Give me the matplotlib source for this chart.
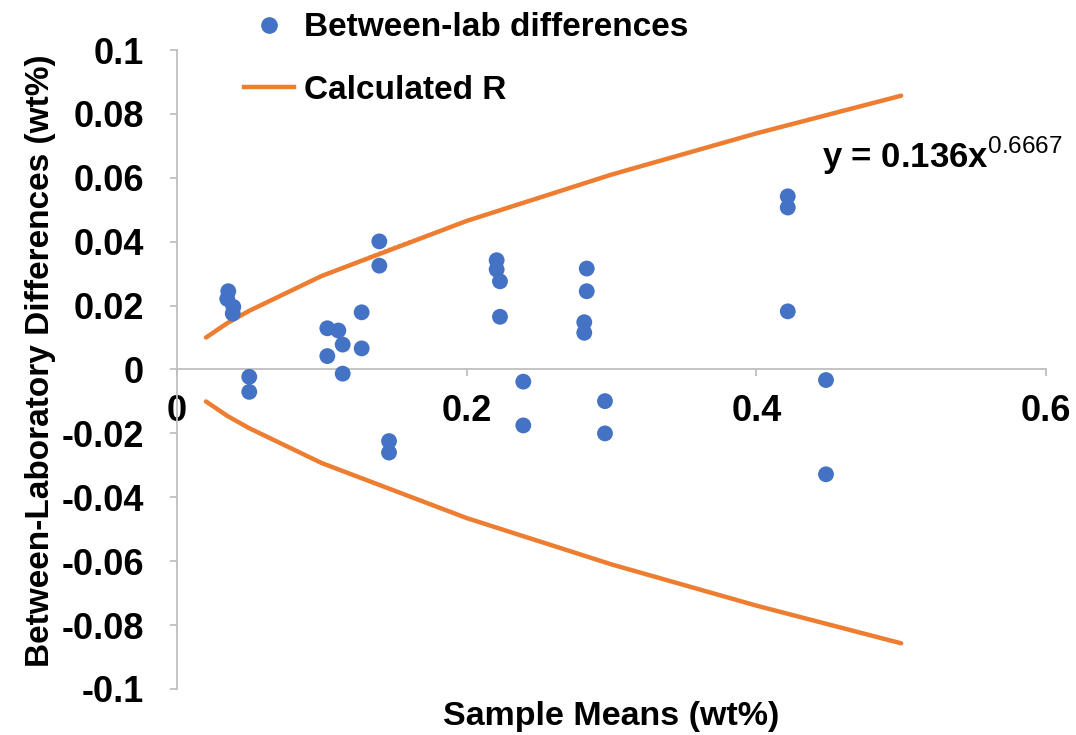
"""Between-laboratory differences vs sample means, with calculated R limits."""

import matplotlib
matplotlib.use("Agg")
import matplotlib.pyplot as plt
from matplotlib.lines import Line2D

# --- data ------------------------------------------------------------------
sample_means = [0.0354, 0.0347, 0.0389, 0.0385, 0.0499, 0.0499,
                0.1038, 0.1114, 0.1144, 0.1038, 0.1144, 0.1275, 0.1275,
                0.1397, 0.1397, 0.1464, 0.1464,
                0.2207, 0.2207, 0.2230, 0.2230, 0.2391, 0.2391,
                0.2829, 0.2829, 0.2812, 0.2812, 0.2955, 0.2955,
                0.4217, 0.4217, 0.4217, 0.4481, 0.4481]
lab_diffs = [0.0245, 0.0221, 0.0196, 0.0175, -0.0023, -0.0070,
             0.0129, 0.0122, 0.0078, 0.0042, -0.0013, 0.0179, 0.0066,
             0.0401, 0.0325, -0.0224, -0.0260,
             0.0342, 0.0313, 0.0276, 0.0165, -0.0038, -0.0175,
             0.0316, 0.0245, 0.0148, 0.0115, -0.0099, -0.0200,
             0.0542, 0.0507, 0.0182, -0.0033, -0.0328]

# calculated R limit (polyline vertices)
r_x = [0.02, 0.035, 0.05, 0.1, 0.2, 0.3, 0.4, 0.5]
r_upper = [0.0100, 0.0146, 0.0184, 0.0293, 0.0465, 0.0610, 0.0739, 0.0857]
r_lower = [-v for v in r_upper]

# power trendline (dotted, mostly hidden under the R line)
trend_x = [0.035, 0.05, 0.1, 0.125, 0.15, 0.175, 0.2, 0.25, 0.3, 0.4, 0.5]
trend_y = [0.0146, 0.0184, 0.0293, 0.0340, 0.0384, 0.0425, 0.0465,
           0.0540, 0.0610, 0.0739, 0.0857]

equation = r"y = 0.136x$^{\mathrm{0.6667}}$"

BLUE = "#4472C4"
ORANGE = "#ED7D31"
GRID = "#BFBFBF"

plt.rcParams["mathtext.fontset"] = "custom"
plt.rcParams["mathtext.rm"] = "Liberation Sans"
plt.rcParams["mathtext.bf"] = "Liberation Sans:bold"

# --- figure -----------------------------------------------------------------
fig = plt.figure(figsize=(10.76, 7.35), dpi=100)
ax = fig.add_axes([177 / 1076, 1 - 689 / 735, (1046 - 177) / 1076, 639 / 735])

ax.plot(r_x, r_upper, color=ORANGE, lw=3.2, solid_capstyle="round", zorder=2)
ax.plot(r_x, r_lower, color=ORANGE, lw=3.2, solid_capstyle="round", zorder=2)
ax.plot(trend_x, trend_y, color=ORANGE, lw=1.5, ls=(0, (1, 1.5)), zorder=1.5)
ax.scatter(sample_means, lab_diffs, s=130, color=BLUE, edgecolors="none",
           zorder=3)

ax.set_xlim(0, 0.6)
ax.set_ylim(-0.1, 0.1)
ax.set_xticks([0, 0.2, 0.4, 0.6])
ax.set_xticklabels(["0", "0.2", "0.4", "0.6"])
ax.set_yticks([-0.1, -0.08, -0.06, -0.04, -0.02, 0, 0.02, 0.04, 0.06, 0.08, 0.1])
ax.set_yticklabels(["-0.1", "-0.08", "-0.06", "-0.04", "-0.02", "0",
                    "0.02", "0.04", "0.06", "0.08", "0.1"])

for s in ("top", "right"):
    ax.spines[s].set_visible(False)
ax.spines["bottom"].set_position(("data", 0))
ax.spines["left"].set_color(GRID)
ax.spines["bottom"].set_color(GRID)
ax.spines["left"].set_linewidth(1.3)
ax.spines["bottom"].set_linewidth(1.3)

for lab in ax.get_xticklabels() + ax.get_yticklabels():
    lab.set_fontfamily("Liberation Sans")
    lab.set_fontweight("bold")
    lab.set_fontsize(26)
ax.tick_params(axis="y", direction="out", length=5, width=1.3, color=GRID, pad=19)
ax.tick_params(axis="x", direction="out", length=5, width=1.3, color=GRID, pad=13)

ax.text(0.445, 0.067, equation, fontsize=25, fontweight="bold",
        family="Liberation Sans", va="center", ha="left")

fig.text(611 / 1076, 1 - 716 / 735, "Sample Means (wt%)", ha="center",
         va="center", family="Liberation Sans", weight="bold", size=24.5)
fig.text(41 / 1076, 1 - 361 / 735, "Between-Laboratory Differences (wt%)",
         ha="center", va="center", rotation=90,
         family="Liberation Sans", weight="bold", size=24)

handles = [
    Line2D([], [], marker="o", ls="none", color=BLUE, markersize=11),
    Line2D([], [], color=ORANGE, lw=3.2),
]
fig.legend(handles, ["Between-lab differences", "Calculated R"],
           loc="upper left", bbox_to_anchor=(214 / 1076, 1.024), frameon=False,
           prop=dict(family="Liberation Sans", weight="bold", size=24),
           handlelength=1.5, handletextpad=0.3, labelspacing=0.95)

fig.savefig("out.png", dpi=100)
